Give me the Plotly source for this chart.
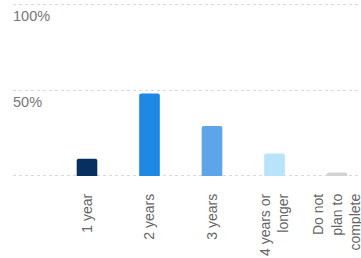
import plotly.graph_objects as go

categories = ["1 year", "2 years", "3 years", "4 years or<br>longer", "Do not<br>plan to<br>complete"]
values = [10, 48, 29, 13, 2]
colors = ["#06305f", "#1e88e5", "#5da5e8", "#b9e3fa", "#d4d4d4"]
y_tickvals = [0, 50, 100]
y_ticktext = ["", "50%", "100%"]

fig = go.Figure(go.Bar(
    x=list(range(len(categories))), y=values,
    marker=dict(color=colors, cornerradius=2, line=dict(width=0)),
    width=0.33,
))
fig.update_layout(
    width=361, height=258,
    margin=dict(l=13, r=0, t=3, b=81, autoexpand=False),
    paper_bgcolor="white", plot_bgcolor="white",
    showlegend=False,
    font=dict(family="Liberation Sans, Arial, sans-serif", color="#777777"),
)
fig.update_xaxes(
    range=[-1.184, 4.384], automargin=False,
    tickmode="array", tickvals=list(range(len(categories))), ticktext=categories,
    tickangle=-90, tickfont=dict(size=14, color="#666666"),
    ticklabelstandoff=13, ticklabeloverflow="allow",
    showgrid=False, zeroline=False, showline=False, ticks="",
)
fig.update_yaxes(
    range=[-0.6, 100.6], automargin=False,
    tickmode="array", tickvals=y_tickvals, ticktext=y_ticktext,
    ticklabelposition="inside", ticklabelshift=12, ticklabelstandoff=-3,
    tickfont=dict(size=14.5, color="#777777"),
    showgrid=True, gridcolor="#d9d9d9", griddash="dot", gridwidth=1,
    zeroline=False, showline=False, ticks="",
)
fig.write_html("out.html", config={"displayModeBar": False},
               post_script="document.body.style.margin='0';")
